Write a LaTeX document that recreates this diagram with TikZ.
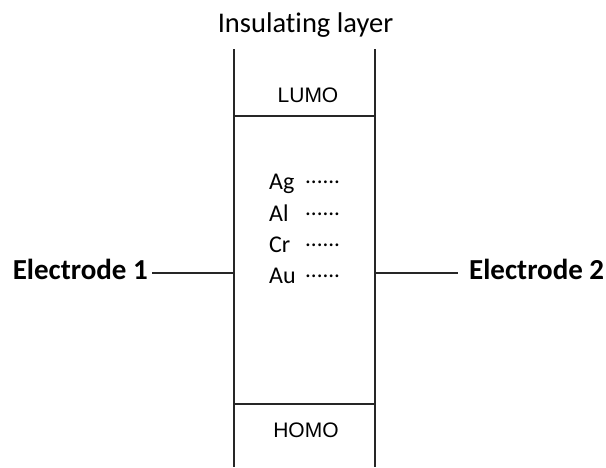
\documentclass[tikz,border=0pt]{standalone}
\usepackage{fontspec}
\setmainfont{Carlito}[Ligatures=NoCommon]
\newfontfamily\arialfont{Liberation Sans}
\begin{document}
\begin{tikzpicture}[x=1pt,y=-1pt,
  wall/.style={line width=1.8pt,draw=black!85},
  lbl/.style={inner sep=0pt,anchor=base},
  elabel/.style={inner sep=0pt,font=\fontsize{29}{31}\selectfont\bfseries},
  metal/.style={inner sep=0pt,anchor=base west,font=\fontsize{24}{26}\selectfont},
  dotrow/.style={inner sep=0pt,anchor=base west,font=\fontsize{23}{25}\selectfont},
  orb/.style={inner sep=0pt,anchor=base,font=\fontsize{21}{23}\arialfont}]
\useasboundingbox (0,0) rectangle (606,467);
% walls
\coordinate (lt) at (234,49);
\coordinate (lb) at (234,467);
\coordinate (rt) at (375,49);
\coordinate (rb) at (375,467);
\draw[wall] (lt) -- (lb);
\draw[wall] (rt) -- (rb);
\coordinate (lumoL) at (234,116);
\coordinate (lumoR) at (375,116);
\coordinate (homoL) at (234,404);
\coordinate (homoR) at (375,404);
\draw[wall] (lumoL) -- (lumoR);
\draw[wall] (homoL) -- (homoR);
% title
\node[lbl,font=\fontsize{28.5}{31}\selectfont] (title) at (305.5,32) {Insulating layer};
\node[orb] (lumo) at (308,102) {LUMO};
\node[orb] (homo) at (306,437) {HOMO};
% metals
\node[metal] (ag) at (269,189) {Ag};
\node[metal] (al) at (269,221) {Al};
\node[metal] (cr) at (269,252) {Cr};
\node[metal] (au) at (269,283) {Au};
\node[dotrow] (agd) at (305,183) {......};
\node[dotrow] (ald) at (305,215) {......};
\node[dotrow] (crd) at (305,246) {......};
\node[dotrow] (aud) at (305,277) {......};
% electrodes
\node[elabel,anchor=base east] (e1) at (148,279) {Electrode 1};
\node[elabel,anchor=base west] (e2) at (469,279) {Electrode 2};
\coordinate (j1) at (234,273);
\coordinate (j2) at (375,273);
\draw[wall,line width=1.6pt] (e1.east |- j1) ++(4,0) -- (j1);
\draw[wall,line width=1.6pt] (j2) -- ([xshift=-11pt]e2.west |- j2);
\end{tikzpicture}
\end{document}
